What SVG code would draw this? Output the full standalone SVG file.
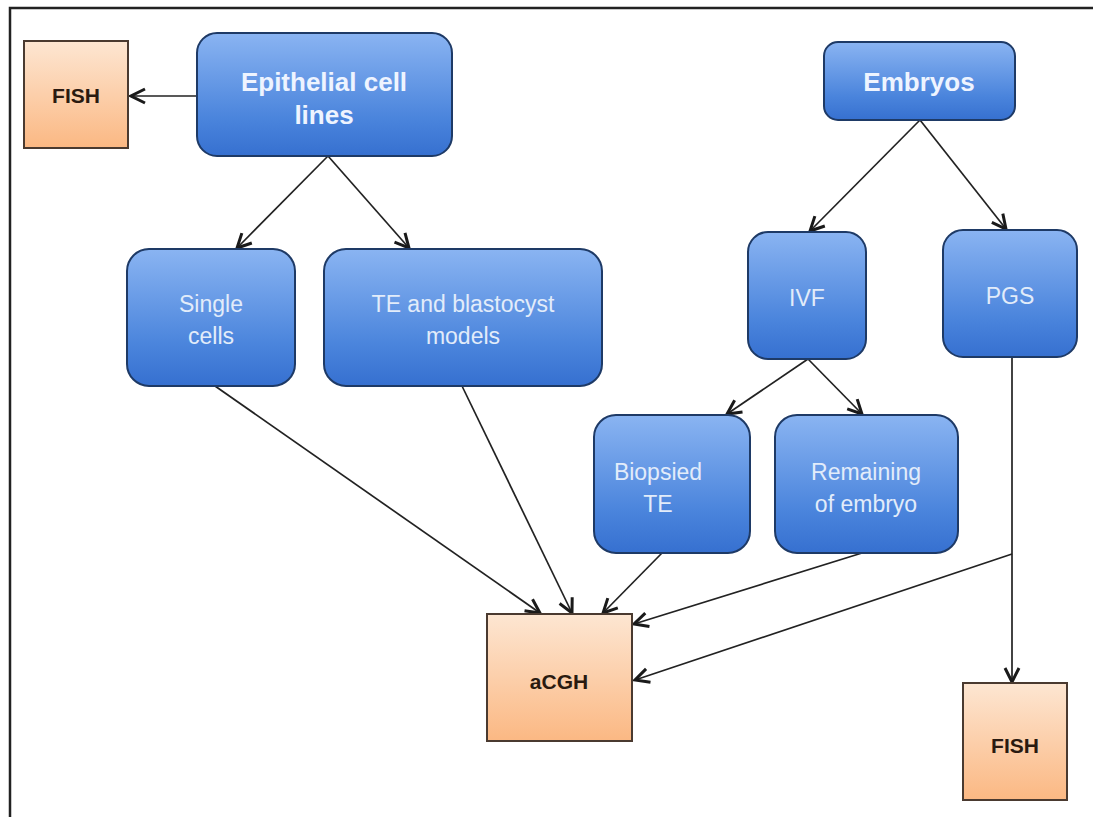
<svg xmlns="http://www.w3.org/2000/svg" width="1093" height="817" viewBox="0 0 1093 817">
<defs>
<linearGradient id="gb" x1="0" y1="0" x2="0" y2="1">
<stop offset="0" stop-color="#8ab4f2"/>
<stop offset="0.7" stop-color="#4a84dc"/>
<stop offset="1" stop-color="#3670d0"/>
</linearGradient>
<linearGradient id="go" x1="0" y1="0" x2="0" y2="1">
<stop offset="0" stop-color="#fde6d2"/>
<stop offset="1" stop-color="#fbb883"/>
</linearGradient>
<marker id="arr" viewBox="0 0 20 20" refX="18" refY="10" markerWidth="20" markerHeight="20" markerUnits="userSpaceOnUse" orient="auto">
<path d="M4,3 L18,10 L4,17" fill="none" stroke="#1a1a1a" stroke-width="3"/>
</marker>
</defs>
<style>
.b{fill:url(#gb);stroke:#1e3a66;stroke-width:2}
.o{fill:url(#go);stroke:#4a3a30;stroke-width:2}
.tb{font-family:"Liberation Sans",Arial,sans-serif;font-weight:bold;font-size:26px;fill:#eef4ff;text-anchor:middle}
.tn{font-family:"Liberation Sans",Arial,sans-serif;font-size:23px;fill:#e2ecfa;text-anchor:middle}
.to{font-family:"Liberation Sans",Arial,sans-serif;font-weight:bold;font-size:21px;fill:#2a1a10;text-anchor:middle}
.ca{stroke:#222;stroke-width:1.7;fill:none;marker-end:url(#arr)}
</style>
<rect width="1093" height="817" fill="#ffffff"/>
<path d="M10,817 L10,8 L1093,8" fill="none" stroke="#222" stroke-width="2.5"/>
<g id="connectors">
<line class="ca" x1="197" y1="96" x2="131" y2="96"/>
<line class="ca" x1="328" y1="156" x2="237" y2="248"/>
<line class="ca" x1="328" y1="156" x2="409" y2="248"/>
<line class="ca" x1="920" y1="120" x2="810" y2="231"/>
<line class="ca" x1="920" y1="120" x2="1006" y2="229"/>
<line class="ca" x1="808" y1="359" x2="727" y2="414"/>
<line class="ca" x1="808" y1="359" x2="862" y2="414"/>
<line class="ca" x1="215" y1="386" x2="540" y2="613"/>
<line class="ca" x1="462" y1="386" x2="572" y2="613"/>
<line class="ca" x1="662" y1="553" x2="603" y2="613"/>
<line class="ca" x1="862" y1="553" x2="634" y2="624"/>
<line class="ca" x1="1012" y1="357" x2="1012" y2="682"/>
<line class="ca" x1="1012" y1="554" x2="635" y2="680"/>
</g>
<g id="fish1"><rect class="o" x="24" y="41" width="104" height="107"/><text class="to" x="76" y="103">FISH</text></g>
<g id="epithelial"><rect class="b" x="197" y="33" width="255" height="123" rx="20"/><text class="tb" x="324" y="91">Epithelial cell</text><text class="tb" x="324" y="124">lines</text></g>
<g id="embryos"><rect class="b" x="824" y="42" width="191" height="78" rx="14"/><text class="tb" x="919" y="91">Embryos</text></g>
<g id="single"><rect class="b" x="127" y="249" width="168" height="137" rx="22"/><text class="tn" x="211" y="312">Single</text><text class="tn" x="211" y="344">cells</text></g>
<g id="te"><rect class="b" x="324" y="249" width="278" height="137" rx="22"/><text class="tn" x="463" y="312">TE and blastocyst</text><text class="tn" x="463" y="344">models</text></g>
<g id="ivf"><rect class="b" x="748" y="232" width="118" height="127" rx="20"/><text class="tn" x="807" y="306">IVF</text></g>
<g id="pgs"><rect class="b" x="943" y="230" width="134" height="127" rx="20"/><text class="tn" x="1010" y="304">PGS</text></g>
<g id="biopsied"><rect class="b" x="594" y="415" width="156" height="138" rx="22"/><text class="tn" x="658" y="480">Biopsied</text><text class="tn" x="658" y="512">TE</text></g>
<g id="remaining"><rect class="b" x="775" y="415" width="183" height="138" rx="22"/><text class="tn" x="866" y="480">Remaining</text><text class="tn" x="866" y="512">of embryo</text></g>
<g id="acgh"><rect class="o" x="487" y="614" width="145" height="127"/><text class="to" x="559" y="689">aCGH</text></g>
<g id="fish2"><rect class="o" x="963" y="683" width="104" height="117"/><text class="to" x="1015" y="753">FISH</text></g>
</svg>
